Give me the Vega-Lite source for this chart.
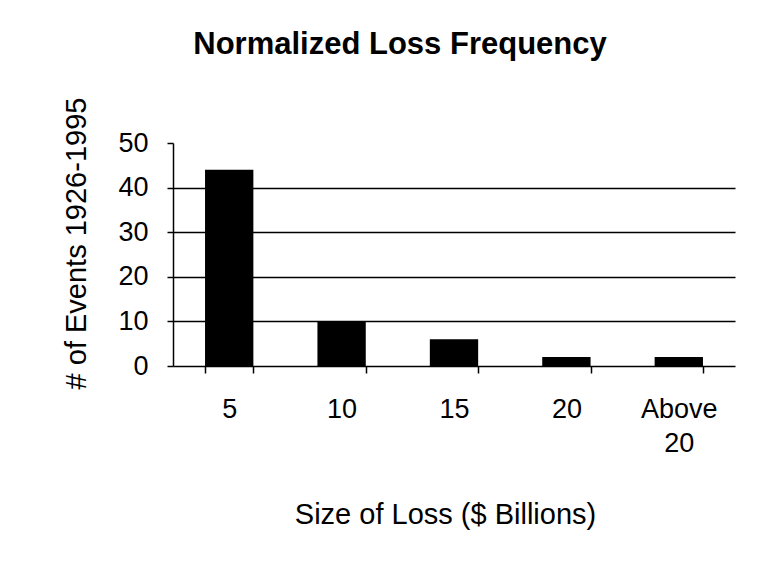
{
  "$schema": "https://vega.github.io/schema/vega-lite/v6.json",
  "autosize": "none",
  "width": 562,
  "height": 223,
  "padding": {"left": 173, "top": 143, "right": 27, "bottom": 196},
  "background": "white",
  "title": {
    "text": "Normalized Loss Frequency",
    "font": "Liberation Sans",
    "fontSize": 31,
    "fontWeight": "bold",
    "color": "black",
    "anchor": "middle",
    "offset": 36,
    "dx": -54
  },
  "data": {
    "values": [
      {"size": "5", "events": 44},
      {"size": "10", "events": 10},
      {"size": "15", "events": 6},
      {"size": "20", "events": 2},
      {"size": "Above 20", "events": 2}
    ]
  },
  "mark": {"type": "bar", "color": "black"},
  "encoding": {
    "x": {
      "field": "size",
      "type": "nominal",
      "sort": null,
      "scale": {"paddingInner": 0.57, "paddingOuter": 0.285},
      "axis": {
        "title": "Size of Loss ($ Billions)",
        "labelAngle": 0,
        "labelExpr": "datum.value === 'Above 20' ? ['Above', '20'] : datum.value",
        "labelLineHeight": 34,
        "labelPadding": 23,
        "tickBand": "extent",
        "tickSize": 7,
        "titlePadding": 44,
        "titleX": 272
      }
    },
    "y": {
      "field": "events",
      "type": "quantitative",
      "scale": {"domain": [0, 50], "nice": false},
      "axis": {
        "title": "# of Events 1926-1995",
        "values": [0, 10, 20, 30, 40, 50],
        "tickSize": 6,
        "labelPadding": 19,
        "titlePadding": 26,
        "titleY": 100,
        "grid": true,
        "gridOpacity": {"condition": {"test": "datum.value >= 50 || datum.value <= 0", "value": 0}, "value": 1}
      }
    }
  },
  "config": {
    "view": {"stroke": null},
    "axis": {
      "domainColor": "black",
      "domainWidth": 1.5,
      "tickColor": "black",
      "tickWidth": 1.5,
      "gridColor": "black",
      "gridWidth": 1.5,
      "labelFont": "Liberation Sans",
      "labelFontSize": 27,
      "labelColor": "black",
      "titleFont": "Liberation Sans",
      "titleFontSize": 29,
      "titleFontWeight": "normal",
      "titleColor": "black"
    }
  }
}
